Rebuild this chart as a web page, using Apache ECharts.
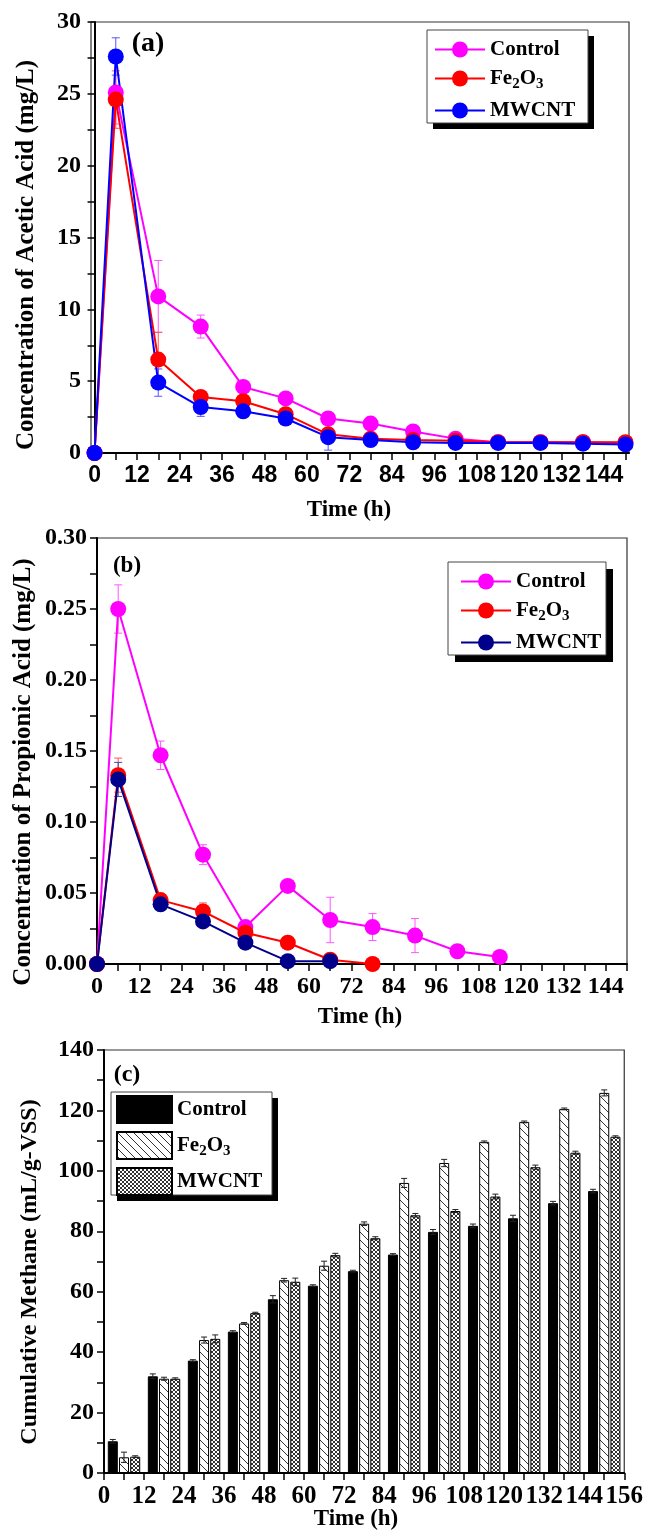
<!DOCTYPE html>
<html>
<head>
<meta charset="utf-8">
<title>vfa-methane</title>
<script src="https://cdn.jsdelivr.net/npm/echarts@6.0.0/dist/echarts.min.js"></script>
<style>
html, body { margin: 0; padding: 0; background: #fff; }
#main { width: 646px; height: 1535px; }
</style>
</head>
<body>
<div id="main"></div>
<script>
// ---- (a) acetic acid, mg/L ----
var tA = [0, 6, 18, 30, 42, 54, 66, 78, 90, 102, 114, 126, 138, 150];
var acetCtrl = [0, 25.1, 10.9, 8.8, 4.6, 3.8, 2.4, 2.05, 1.5, 1.0, 0.75, 0.75, 0.75, 0.7];
var acetFe   = [0, 24.6, 6.5, 3.9, 3.6, 2.7, 1.3, 1.0, 0.9, 0.85, 0.75, 0.75, 0.75, 0.75];
var acetMw   = [0, 27.6, 4.9, 3.2, 2.9, 2.4, 1.1, 0.9, 0.75, 0.7, 0.7, 0.7, 0.65, 0.6];
var acetCtrlErr = [0, 2.2, 2.5, 0.8, 0.3, 0.3, 0.3, 0.3, 0.3, 0.2, 0.2, 0.2, 0.2, 0.2];
var acetFeErr   = [0, 2.0, 1.9, 0.3, 0.3, 0.3, 0.3, 0.4, 0.3, 0.3, 0.3, 0.3, 0.3, 0.3];
var acetMwErr   = [0, 1.3, 0.95, 0.65, 0.3, 0.3, 0.9, 0.3, 0.3, 0.4, 0.3, 0.3, 0.3, 0.3];

// ---- (b) propionic acid, mg/L ----
var tB = [0, 6, 18, 30, 42, 54, 66, 78, 90, 102, 114];
var propCtrl = [0, 0.250, 0.147, 0.077, 0.026, 0.055, 0.031, 0.026, 0.020, 0.009, 0.005];
var propFe   = [0, 0.133, 0.045, 0.037, 0.022, 0.015, 0.003, 0.000];
var propMw   = [0, 0.130, 0.042, 0.030, 0.015, 0.002, 0.002];
var propCtrlErr = [0, 0.017, 0.010, 0.007, 0.002, 0.002, 0.016, 0.0095, 0.012, 0.002, 0.001];
var propFeErr   = [0, 0.012, 0.002, 0.006, 0.002, 0.001, 0.001, 0.001];
var propMwErr   = [0, 0.012, 0.002, 0.002, 0.002, 0.001, 0.001];

// ---- (c) cumulative methane, mL/g-VSS ----
var tC = [6, 18, 30, 42, 54, 66, 78, 90, 102, 114, 126, 138, 150];
var methCtrl = [10.5, 32.0, 37.2, 46.8, 57.5, 62.0, 66.8, 72.3, 79.8, 81.8, 84.3, 89.3, 93.3];
var methFe   = [5.2, 31.2, 44.0, 49.5, 63.8, 68.6, 82.5, 96.0, 102.6, 109.6, 116.2, 120.5, 125.8];
var methMw   = [5.4, 31.2, 44.4, 52.9, 63.3, 72.1, 77.7, 85.3, 86.7, 91.5, 101.2, 106.0, 111.3];
var methCtrlErr = [0.6, 0.8, 0.3, 0.3, 1.2, 0.3, 0.3, 0.3, 0.8, 0.6, 1.0, 0.6, 0.6];
var methFeErr   = [1.7, 0.5, 1.0, 0.3, 0.6, 1.5, 0.6, 1.5, 1.2, 0.3, 0.3, 0.3, 1.0];
var methMwErr   = [0.3, 0.3, 1.3, 0.3, 1.2, 0.6, 0.5, 0.6, 0.5, 0.8, 0.7, 0.5, 0.3];

var ticks12 = [0, 12, 24, 36, 48, 60, 72, 84, 96, 108, 120, 132, 144];
var ticks12c = ticks12.concat([156]);
var ticks6a = [], ticks6c = [];
for (var k = 0; k <= 150; k += 6) ticks6a.push(k);
for (var k2 = 0; k2 <= 156; k2 += 6) ticks6c.push(k2);

var SERIF = 'Liberation Serif';

function pts(t, v, e) {
  var out = [];
  for (var i = 0; i < v.length; i++) out.push([t[i], v[i], e[i]]);
  return out;
}

// hatch patterns for the bars
function hatchPattern() {
  var c = document.createElement('canvas');
  c.width = 8; c.height = 8;
  var g = c.getContext('2d');
  g.fillStyle = '#fff'; g.fillRect(0, 0, 8, 8);
  g.strokeStyle = '#333'; g.lineWidth = 1;
  g.beginPath(); g.moveTo(-1, -1); g.lineTo(9, 9); g.stroke();
  return c;
}
function meshPattern() {
  var c = document.createElement('canvas');
  c.width = 4; c.height = 4;
  var g = c.getContext('2d');
  g.fillStyle = '#fff'; g.fillRect(0, 0, 4, 4);
  g.fillStyle = '#333';
  [[0,0],[1,1],[2,2],[3,3],[3,0],[2,1],[1,2],[0,3]].forEach(function (p) { g.fillRect(p[0], p[1], 1, 1); });
  return c;
}

function errRender(color, offPx, cap) {
  return function (params, api) {
    var x = api.value(0), y = api.value(1), e = api.value(2);
    if (!e) return null;
    var hi = api.coord([x, y + e]), lo = api.coord([x, y - e]);
    var cx = hi[0] + offPx;
    var st = { stroke: color, lineWidth: 1 };
    return { type: 'group', children: [
      { type: 'line', shape: { x1: cx, y1: hi[1], x2: cx, y2: lo[1] }, style: st },
      { type: 'line', shape: { x1: cx - cap, y1: hi[1], x2: cx + cap, y2: hi[1] }, style: st },
      { type: 'line', shape: { x1: cx - cap, y1: lo[1], x2: cx + cap, y2: lo[1] }, style: st }
    ] };
  };
}

var axisLineSt = { show: true, lineStyle: { color: '#000', width: 2 } };
var tickSt = { show: true, inside: false, length: 7, lineStyle: { color: '#000', width: 1.5 } };

function xVal(grid, min, max, labels, ticks, labelFont, size) {
  return {
    type: 'value', gridIndex: grid, position: 'bottom', min: min, max: max,
    axisLine: axisLineSt, splitLine: { show: false },
    axisTick: Object.assign({ customValues: ticks }, tickSt),
    axisLabel: { customValues: labels, margin: 11, color: '#000', fontFamily: labelFont, fontWeight: 'bold', fontSize: size }
  };
}
function yVal(grid, max, interval, size, fmt) {
  return {
    type: 'value', gridIndex: grid, min: 0, max: max, interval: interval,
    axisLine: axisLineSt, splitLine: { show: false },
    axisTick: tickSt,
    minorTick: { show: true, splitNumber: 2, length: 7, lineStyle: { color: '#000', width: 1.5 } },
    axisLabel: { margin: 10, color: '#000', fontFamily: SERIF, fontWeight: 'bold', fontSize: size, formatter: fmt }
  };
}

function lineSeries(name, grid, data, color) {
  return {
    name: name, type: 'line', xAxisIndex: grid, yAxisIndex: grid, data: data,
    symbol: 'circle', symbolSize: 16, z: 3,
    lineStyle: { color: color, width: 2 }, itemStyle: { color: color }
  };
}
function errSeries(grid, data, color) {
  return {
    type: 'custom', xAxisIndex: grid, yAxisIndex: grid, data: data, z: 2,
    renderItem: errRender(color, 0, 4), silent: true
  };
}

var legendText = {
  color: '#000', fontFamily: SERIF, fontWeight: 'bold', fontSize: 21,
  rich: { s: { color: '#000', fontFamily: SERIF, fontWeight: 'bold', fontSize: 15, padding: [12, 0, 0, 0] } }
};
function legendFmt(name) {
  var n = name.split('|')[1];
  return n === 'Fe2O3' ? 'Fe{s|2}O{s|3}' : n;
}
function legendList(names, left, top, w, h, gap, pad, icon) {
  var l = {
    data: names, orient: 'vertical', left: left, top: top, itemWidth: w, itemHeight: h,
    itemGap: gap, padding: pad, selectedMode: false, formatter: legendFmt, textStyle: legendText, z: 6
  };
  if (icon) l.icon = icon;
  return l;
}
// framed box with a solid drop shadow behind each legend
function legendFrame(x, y, w, h, off) {
  return [
    { type: 'rect', z: 5, shape: { x: x + off, y: y + off, width: w, height: h }, style: { fill: '#000' } },
    { type: 'rect', z: 5, shape: { x: x, y: y, width: w, height: h }, style: { fill: '#fff', stroke: '#444', lineWidth: 1 } }
  ];
}
function label(text, x, y, size, rot) {
  var el = { type: 'text', x: x, y: y, z: 6,
    style: { text: text, font: 'bold ' + size + 'px "Liberation Serif"', fill: '#000', textAlign: 'center', textVerticalAlign: 'middle' } };
  if (rot) el.rotation = rot;
  return el;
}

var hatch = { image: hatchPattern(), repeat: 'repeat' };
var mesh = { image: meshPattern(), repeat: 'repeat' };

var chart = echarts.init(document.getElementById('main'), null, { renderer: 'canvas' });

var gridSt = { show: true, borderColor: '#333', borderWidth: 1.2, backgroundColor: 'transparent', containLabel: false };

var option = {
  animation: false,
  backgroundColor: '#fff',
  grid: [
    Object.assign({ left: 91, top: 22, width: 538, height: 431 }, gridSt),
    Object.assign({ left: 97, top: 538, width: 530, height: 426 }, gridSt),
    Object.assign({ left: 104, top: 1050, width: 524, height: 423 }, gridSt)
  ],
  xAxis: [
    xVal(0, -1, 151, ticks12, ticks6a, 'Liberation Sans', 23),
    xVal(1, 0, 150, ticks12, ticks6a, SERIF, 24),
    { type: 'category', gridIndex: 2, position: 'bottom', data: tC.map(String), boundaryGap: true, show: false },
    xVal(2, 0, 156, ticks12c, ticks6c, SERIF, 25)
  ],
  yAxis: [
    yVal(0, 30, 5, 24),
    yVal(1, 0.30, 0.05, 24, function (v) { return v.toFixed(2); }),
    yVal(2, 140, 20, 24)
  ],
  legend: [
    legendList(['a|Control', 'a|Fe2O3', 'a|MWCNT'], 427, 30, 50, 20, 8, [9, 10, 8, 7]),
    legendList(['b|Control', 'b|Fe2O3', 'b|MWCNT'], 448, 562, 50, 20, 8, [9, 10, 8, 12]),
    legendList(['c|Control', 'c|Fe2O3', 'c|MWCNT'], 111, 1092, 55, 27, 7, [3, 12, 3, 5], 'rect')
  ],
  graphic: [].concat(
    legendFrame(427, 30, 161, 93, 6),
    legendFrame(448, 562, 158, 93, 7),
    legendFrame(111, 1092, 161, 103, 6),
    [
      label('(a)', 148, 44, 28),
      label('(b)', 127, 566, 23),
      label('(c)', 127, 1075, 24),
      label('Concentration of Acetic Acid (mg/L)', 27, 255, 25, Math.PI / 2),
      label('Concentration of Propionic Acid (mg/L)', 24, 772, 25, Math.PI / 2),
      label('Cumulative Methane (mL/g-VSS)', 30, 1272, 24, Math.PI / 2),
      label('Time (h)', 349, 510, 23),
      label('Time (h)', 360, 1017, 23),
      label('Time (h)', 356, 1519, 23)
    ]
  ),
  series: [
    errSeries(0, pts(tA, acetCtrl, acetCtrlErr), '#ff55ff'),
    errSeries(0, pts(tA, acetFe, acetFeErr), '#ff5555'),
    errSeries(0, pts(tA, acetMw, acetMwErr), '#5555ff'),
    lineSeries('a|Control', 0, pts(tA, acetCtrl, acetCtrlErr), '#ff00ff'),
    lineSeries('a|Fe2O3', 0, pts(tA, acetFe, acetFeErr), '#ff0000'),
    lineSeries('a|MWCNT', 0, pts(tA, acetMw, acetMwErr), '#0000ff'),

    errSeries(1, pts(tB, propCtrl, propCtrlErr), '#ff55ff'),
    errSeries(1, pts(tB, propFe, propFeErr), '#ff5555'),
    errSeries(1, pts(tB, propMw, propMwErr), '#4444aa'),
    lineSeries('b|Control', 1, pts(tB, propCtrl, propCtrlErr), '#ff00ff'),
    lineSeries('b|Fe2O3', 1, pts(tB, propFe, propFeErr), '#ff0000'),
    lineSeries('b|MWCNT', 1, pts(tB, propMw, propMwErr), '#00008b'),

    { name: 'c|Control', type: 'bar', xAxisIndex: 2, yAxisIndex: 2, data: methCtrl, barWidth: 10, barGap: '12%',
      itemStyle: { color: '#000', borderColor: '#000', borderWidth: 1 } },
    { name: 'c|Fe2O3', type: 'bar', xAxisIndex: 2, yAxisIndex: 2, data: methFe, barWidth: 10, barGap: '12%',
      itemStyle: { color: hatch, borderColor: '#000', borderWidth: 1 } },
    { name: 'c|MWCNT', type: 'bar', xAxisIndex: 2, yAxisIndex: 2, data: methMw, barWidth: 10, barGap: '12%',
      itemStyle: { color: mesh, borderColor: '#000', borderWidth: 1 } },
    { type: 'custom', xAxisIndex: 3, yAxisIndex: 2, data: pts(tC, methCtrl, methCtrlErr), z: 5, silent: true, renderItem: errRender('#222', -11.2, 3) },
    { type: 'custom', xAxisIndex: 3, yAxisIndex: 2, data: pts(tC, methFe, methFeErr), z: 5, silent: true, renderItem: errRender('#222', 0, 3) },
    { type: 'custom', xAxisIndex: 3, yAxisIndex: 2, data: pts(tC, methMw, methMwErr), z: 5, silent: true, renderItem: errRender('#222', 11.2, 3) }
  ]
};

chart.setOption(option);
</script>
</body>
</html>
